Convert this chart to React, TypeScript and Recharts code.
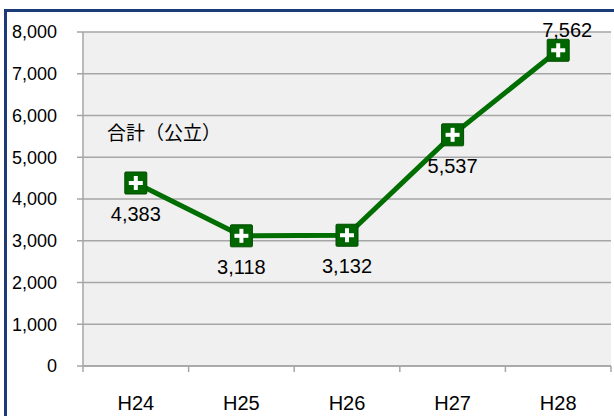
import React from 'react';
import { LineChart, Line, XAxis, YAxis, CartesianGrid, LabelList } from 'recharts';

const categories = ['H24', 'H25', 'H26', 'H27', 'H28'];
const totals = [4383, 3118, 3132, 5537, 7562];
const yTicks = [0, 1000, 2000, 3000, 4000, 5000, 6000, 7000, 8000];
const seriesName = '合計（公立）';

const data = categories.map((c, i) => ({ name: c, value: totals[i] }));

const FONT = '"Liberation Sans", Arial, "Noto Sans CJK JP", sans-serif';
const GREEN = '#006600';
const GRID = '#a6a6a6';

const fmt = (v: number) => v.toLocaleString('en-US');

const XTick = (props: any) => {
  const { x, y, payload, index, visibleTicksCount } = props;
  const off = payload && payload.offset ? payload.offset : 0;
  const isLast = index === (visibleTicksCount ?? categories.length) - 1 || index === categories.length - 1;
  return (
    <g>
      <line x1={x - off} x2={x - off} y1={y} y2={y + 6} stroke={GRID} strokeWidth={1.5} />
      {isLast && <line x1={x + off} x2={x + off} y1={y} y2={y + 6} stroke={GRID} strokeWidth={1.5} />}
      <text x={x} y={y + 44} textAnchor="middle" fontSize={20} fontFamily={FONT} fill="#000">
        {payload.value}
      </text>
    </g>
  );
};

const Marker = (props: any) => {
  const { cx, cy } = props;
  if (cx == null || cy == null) return null;
  return (
    <g>
      <rect x={cx - 11} y={cy - 11} width={22} height={22} fill={GREEN} stroke="#004d00" strokeWidth={1} rx={1} />
      <rect x={cx - 7} y={cy - 2} width={14} height={4} fill="#fff" />
      <rect x={cx - 2} y={cy - 7} width={4} height={14} fill="#fff" />
    </g>
  );
};

const ValueLabel = (props: any) => {
  const { x, y, value, index } = props;
  const above = index === totals.length - 1;
  return (
    <text
      x={x + (above ? 9 : 0)}
      y={above ? y - 13 : y + 38}
      textAnchor="middle"
      fontSize={20}
      fontFamily={FONT}
      fill="#000"
    >
      {fmt(value)}
    </text>
  );
};

export default function App() {
  return (
    <div style={{ position: 'absolute', left: 0, top: 0, width: 614, height: 416, overflow: 'hidden', background: '#fff' }}>
      <div
        style={{
          position: 'absolute',
          left: 4,
          top: 9,
          width: 800,
          height: 600,
          borderTop: '3px solid #1a3a78',
          borderLeft: '3px solid #1a3a78',
        }}
      />
      <div style={{ position: 'absolute', left: 0, top: 0 }}>
        <LineChart width={614} height={416} data={data} margin={{ top: 32, right: 3, bottom: 0, left: 0 }}>
          <CartesianGrid fill="#f0f0f0" stroke={GRID} strokeWidth={1.5} vertical={false} />
          <XAxis
            dataKey="name"
            scale="band"
            height={50}
            interval={0}
            tickLine={false}
            tickSize={0}
            tickMargin={0}
            axisLine={{ stroke: GRID, strokeWidth: 1.5 }}
            tick={<XTick />}
          />
          <YAxis
            width={83}
            domain={[0, 8000]}
            ticks={yTicks}
            tickSize={6}
            tickMargin={20}
            tickFormatter={fmt}
            axisLine={{ stroke: GRID, strokeWidth: 1.5 }}
            tickLine={{ stroke: GRID, strokeWidth: 1.5 }}
            tick={{ fontSize: 18, fontFamily: FONT, fill: '#000' }}
          />
          <Line
            dataKey="value"
            stroke="#006e00"
            strokeWidth={5}
            dot={<Marker />}
            activeDot={false}
            isAnimationActive={false}
          >
            <LabelList dataKey="value" content={<ValueLabel />} />
          </Line>
        </LineChart>
      </div>
      <svg style={{ position: 'absolute', left: 0, top: 0 }} width={614} height={416}>
        <text x={107} y={140} fontSize={19} fontFamily='"Noto Sans CJK JP", sans-serif' fill="#000">
          {seriesName}
        </text>
      </svg>
    </div>
  );
}
